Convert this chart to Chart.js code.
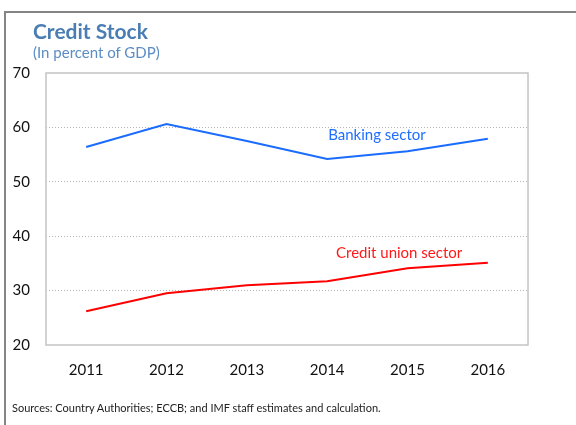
<!DOCTYPE html>
<html>
<head>
<meta charset="utf-8">
<script src="https://cdn.jsdelivr.net/npm/chart.js@4.4.0/dist/chart.umd.min.js"></script>
<style>
  body { margin: 0; background: #fff; }
  #wrap { position: relative; width: 576px; height: 425px; overflow: hidden; font-family: Lato, "Open Sans", sans-serif; }
  #frame { position: absolute; left: 4px; top: 11px; width: 600px; height: 500px; border-top: 2px solid #858585; border-left: 2px solid #858585; }
  #title { position: absolute; left: 33px; top: 18px; font-size: 21px; font-weight: bold; color: #4a7db3; }
  #subtitle { position: absolute; left: 33px; top: 43px; font-size: 15px; color: #5b8cc4; }
  #sources { position: absolute; left: 12px; top: 401px; font-size: 11px; color: #222; }
  canvas { position: absolute; left: 0; top: 0; }
</style>
</head>
<body>
<div id="wrap">
  <div id="frame"></div>
  <canvas id="lineChart" width="576" height="425"></canvas>
  <div id="title">Credit Stock</div>
  <div id="subtitle">(In percent of GDP)</div>
  <div id="sources">Sources: Country Authorities; ECCB; and IMF staff estimates and calculation.</div>
</div>
<script>
const CHART = document.getElementById('lineChart');

var years = ['2011', '2012', '2013', '2014', '2015', '2016'];
var banking = [56.4, 60.6, 57.5, 54.2, 55.6, 57.9];
var creditUnion = [26.2, 29.5, 31.0, 31.7, 34.1, 35.1];
var yTicks = [20, 30, 40, 50, 60, 70];

// plot box + in-chart labels
var extras = {
  id: 'extras',
  afterDraw: function(chart) {
    var ctx = chart.ctx, a = chart.chartArea;
    var x = chart.scales.x, y = chart.scales.y;
    ctx.save();
    ctx.strokeStyle = '#c4c4c4';
    ctx.lineWidth = 1.5;
    ctx.strokeRect(a.left, a.top, a.right - a.left, a.bottom - a.top);
    ctx.font = '15px Lato, "Open Sans", sans-serif';
    ctx.textBaseline = 'middle';
    ctx.fillStyle = '#1f6fff';
    ctx.fillText('Banking sector', x.getPixelForValue(3) + 1, y.getPixelForValue(58.6));
    ctx.fillStyle = '#ff1a1a';
    ctx.fillText('Credit union sector', x.getPixelForValue(3.11), y.getPixelForValue(36.9));
    ctx.restore();
  }
};

var lineChart = new Chart(CHART, {
  type: 'line',
  data: {
    labels: years,
    datasets: [
      {
        label: 'Banking sector',
        data: banking,
        borderColor: '#1a6cff',
        borderWidth: 2,
        pointRadius: 0,
        fill: false,
        tension: 0
      },
      {
        label: 'Credit union sector',
        data: creditUnion,
        borderColor: '#ff0000',
        borderWidth: 2,
        pointRadius: 0,
        fill: false,
        tension: 0
      }
    ]
  },
  options: {
    responsive: false,
    animation: false,
    layout: { padding: { top: 73, right: 48, left: 0, bottom: 0 } },
    plugins: { legend: { display: false }, tooltip: { enabled: false } },
    scales: {
      x: {
        offset: true,
        grid: { display: false, drawTicks: false },
        border: { display: false },
        ticks: { padding: 16, color: '#111', font: { family: 'Lato, "Open Sans", sans-serif', size: 15 } },
        afterFit: function(s) { s.height = 80; }
      },
      y: {
        min: 20,
        max: 70,
        afterBuildTicks: function(s) { s.ticks = yTicks.map(function(v) { return { value: v }; }); },
        grid: {
          drawTicks: false,
          color: function(c) { return (c.tick.value === 20 || c.tick.value === 70) ? 'rgba(0,0,0,0)' : '#b5b5b5'; },
          lineWidth: 1
        },
        border: { display: false, dash: [1, 2] },
        ticks: { padding: 16, color: '#111', font: { family: 'Lato, "Open Sans", sans-serif', size: 15 } },
        afterFit: function(s) { s.width = 46; }
      }
    }
  },
  plugins: [extras]
});
</script>
</body>
</html>
